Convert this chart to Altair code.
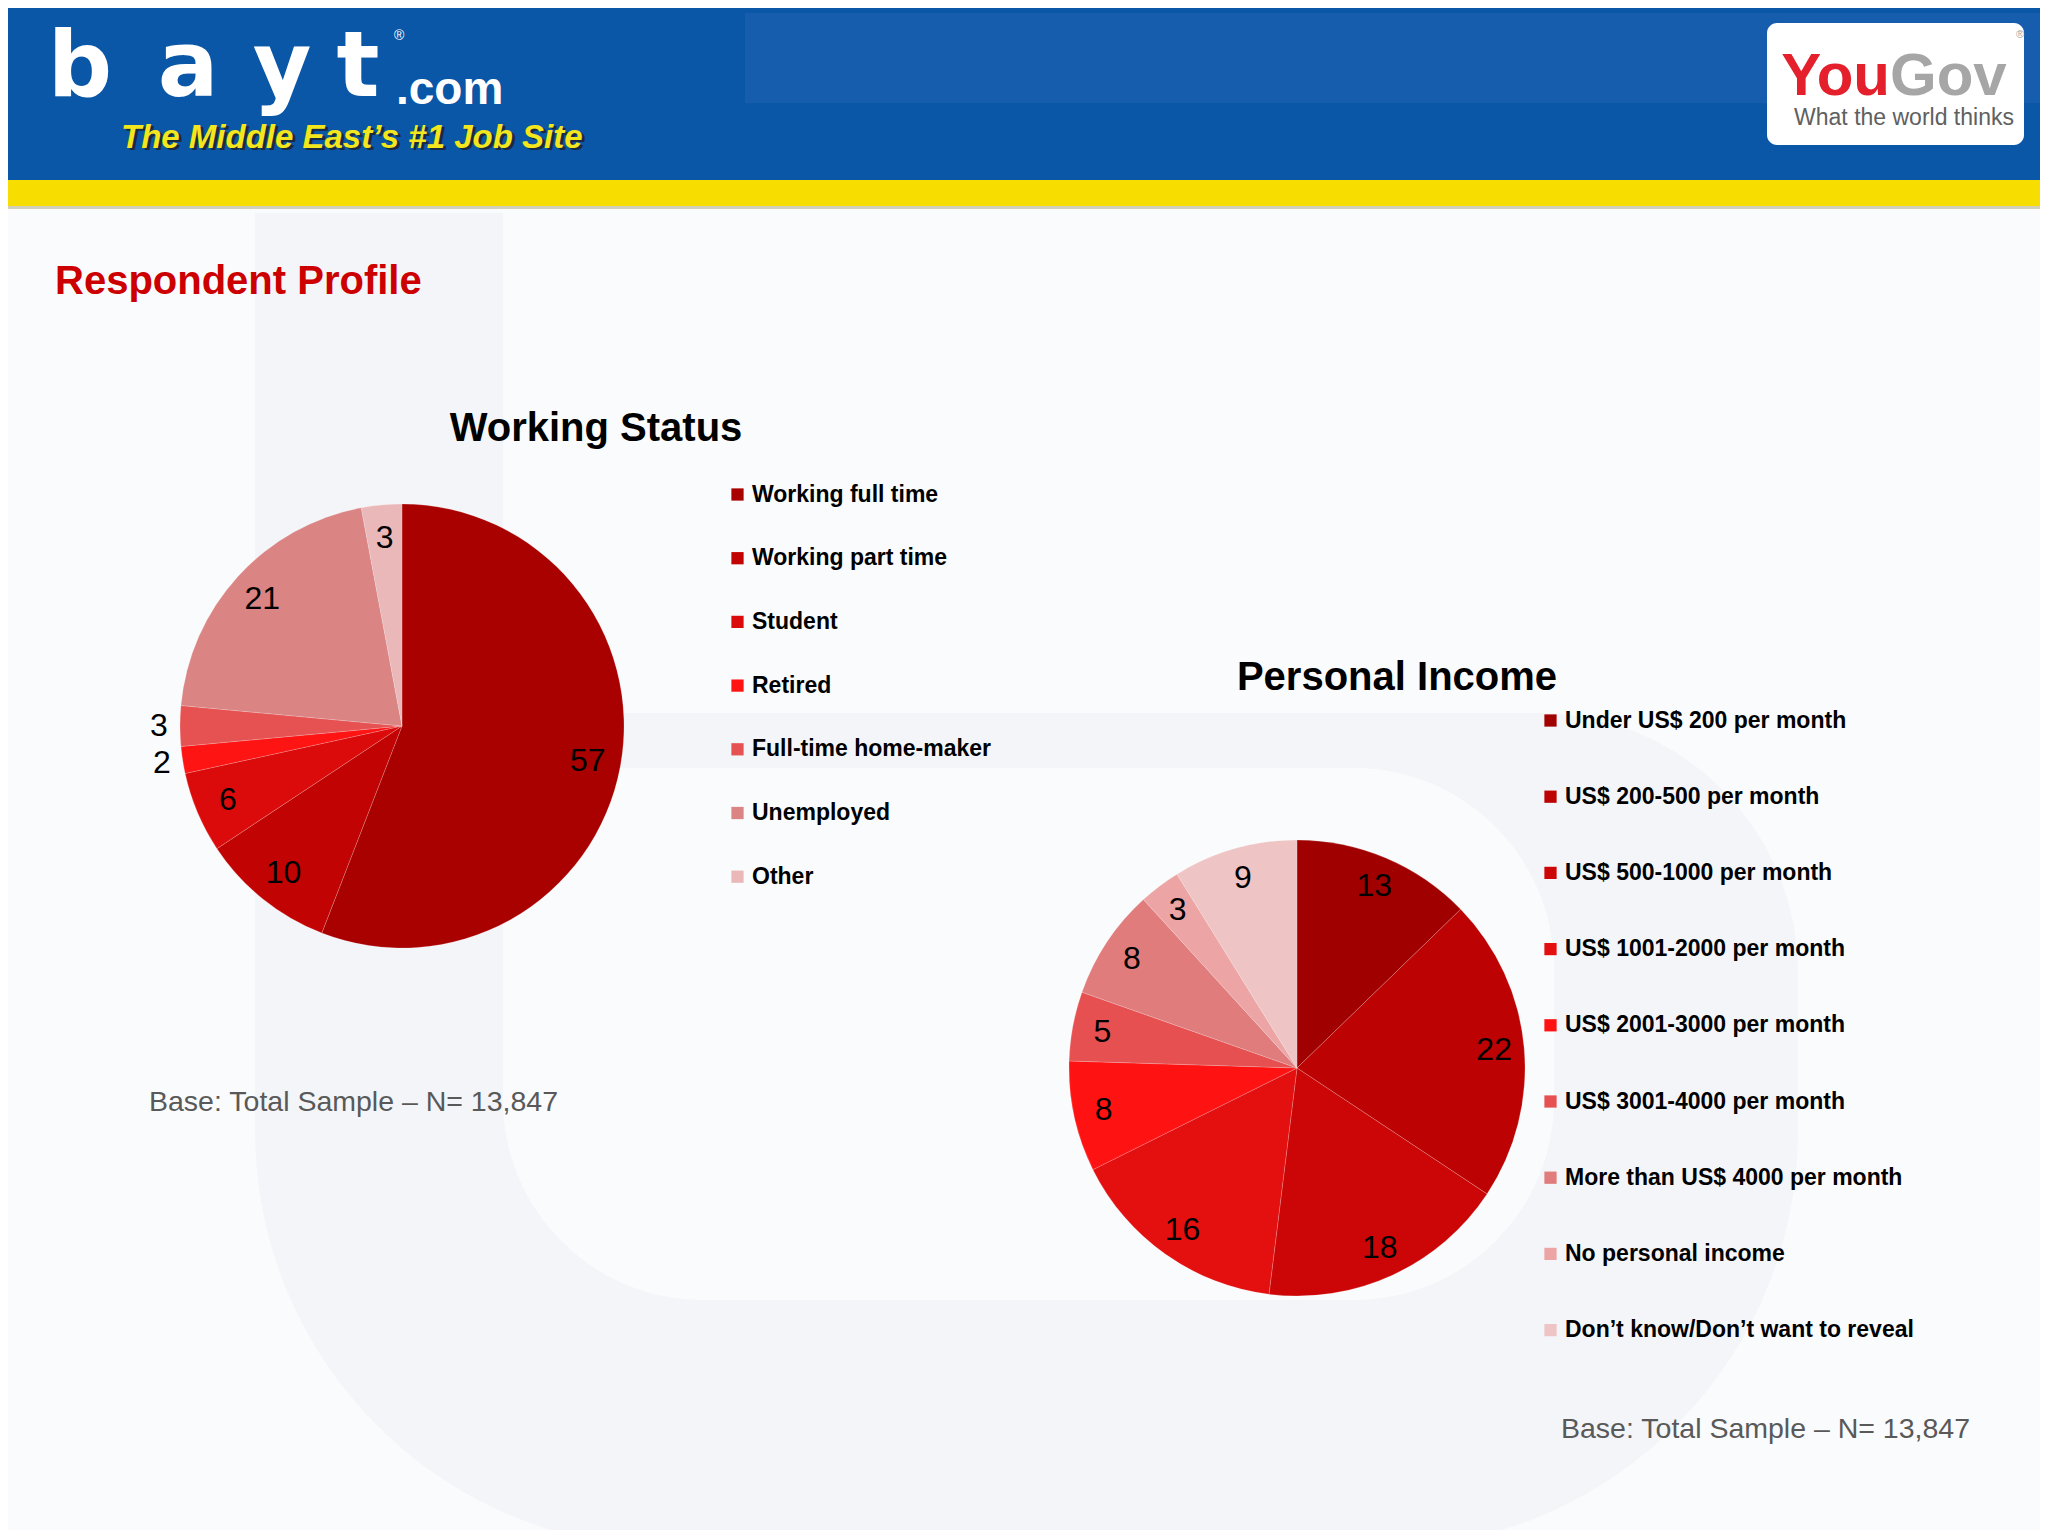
import altair as alt
import pandas as pd

# ---------------- data ----------------
ws_categories = ["Working full time", "Working part time", "Student", "Retired",
                 "Full-time home-maker", "Unemployed", "Other"]
ws_values = [57, 10, 6, 2, 3, 21, 3]
ws_colors = ["#A90000", "#C20303", "#DC0B0B", "#FF1414", "#E65252", "#DB8484", "#EAB8B8"]
ws_outside = ["Retired", "Full-time home-maker"]

pi_categories = ["Under US$ 200 per month", "US$ 200-500 per month", "US$ 500-1000 per month",
                 "US$ 1001-2000 per month", "US$ 2001-3000 per month", "US$ 3001-4000 per month",
                 "More than US$ 4000 per month", "No personal income",
                 "Don\u2019t know/Don\u2019t want to reveal"]
pi_values = [13, 22, 18, 16, 8, 5, 8, 3, 9]
pi_colors = ["#A00000", "#BC0202", "#CC0606", "#E40F0F", "#FF1212", "#E65050", "#E07C7C",
             "#ECA4A4", "#EEC4C4"]

W, H = 2032, 1522
FONT = "Liberation Sans"

ws_df = pd.DataFrame({"cat": ws_categories, "value": ws_values, "idx": range(len(ws_values))})
pi_df = pd.DataFrame({"cat": pi_categories, "value": pi_values, "idx": range(len(pi_values))})
one = pd.DataFrame({"a": [0]})


def rect(x, x2, y, y2, color, opacity=1.0, **kw):
    return alt.Chart(one).mark_rect(color=color, opacity=opacity, **kw).encode(
        x=alt.value(x), x2=alt.value(x2), y=alt.value(y), y2=alt.value(y2))


def label(text, x, y, size, color="black", weight="normal", align="left",
          font=FONT, style="normal", baseline="alphabetic"):
    return alt.Chart(pd.DataFrame({"t": [text]})).mark_text(
        fontSize=size, color=color, fontWeight=weight, align=align, font=font,
        fontStyle=style, baseline=baseline).encode(
        x=alt.value(x), y=alt.value(y), text="t:N")


# ---------------- background ("b" watermark) ----------------
bg_dark = "#F4F5F8"
bg_light = "#FAFBFC"
layers = [
    rect(247, 1790, 705, 1540, bg_dark, cornerRadiusTopRight=260,
         cornerRadiusBottomLeft=500, cornerRadiusBottomRight=500),
    rect(247, 495, 205, 1000, bg_dark),
    rect(495, 1546, 760, 1292, bg_light, cornerRadiusTopLeft=120, cornerRadiusTopRight=200,
         cornerRadiusBottomLeft=200, cornerRadiusBottomRight=200),
]

# ---------------- header ----------------
layers += [
    rect(0, W, 0, 172, "#0A56A7"),
    rect(737, W, 5, 95, "#3A78C0", opacity=0.25),
    rect(0, W, 172, 198, "#F8DD00"),
    rect(0, W, 198, 201, "#C8C6A8", opacity=0.8),
    rect(1759, 2016, 15, 137, "#FFFFFF", cornerRadius=10),
]
for ch, cx in zip("bayt", [72, 180, 274, 350]):
    layers.append(label(ch, cx, 88, 90, color="white", weight="bold", align="center",
                        font="DejaVu Sans"))
layers += [
    label(".com", 388, 96, 46, color="white", weight="bold"),
    label("\u00ae", 386, 32, 14, color="white"),
    label("The Middle East\u2019s #1 Job Site", 116, 142, 33, color="#1A2A40",
          weight="bold", style="italic"),
    label("The Middle East\u2019s #1 Job Site", 113, 140, 33, color="#F4E61C",
          weight="bold", style="italic"),
    label("You", 1882, 87, 60, color="#E3202B", weight="bold", align="right"),
    label("Gov", 1882, 87, 60, color="#A6A6A6", weight="bold"),
    label("\u00ae", 2008, 30, 11, color="#A6A6A6"),
    label("What the world thinks", 1896, 117, 23, color="#606060", align="center"),
]

# ---------------- titles / notes ----------------
layers += [
    label("Respondent Profile", 47, 286, 40, color="#CC0000", weight="bold"),
    label("Working Status", 588, 433, 40, weight="bold", align="center"),
    label("Personal Income", 1389, 682, 40, weight="bold", align="center"),
    label("Base: Total Sample \u2013 N= 13,847", 141, 1103, 28.5, color="#595959"),
    label("Base: Total Sample \u2013 N= 13,847", 1553, 1430, 28.5, color="#595959"),
]


def legend(x, y, row_pad):
    return alt.Legend(orient="none", legendX=x, legendY=y, title=None, symbolType="square",
                      symbolSize=150, symbolStrokeWidth=0, labelFont=FONT, labelFontSize=23,
                      labelFontWeight="bold", labelColor="black", rowPadding=row_pad,
                      labelOffset=3, padding=0, labelLimit=0)


# ---------------- pies ----------------
ws_cx, ws_cy, ws_r = 394, 718, 222
pi_cx, pi_cy, pi_r = 1289, 1060, 228

ws_base = alt.Chart(ws_df).encode(
    theta=alt.Theta("value:Q", stack=True),
    order=alt.Order("idx:Q"),
    x=alt.value(ws_cx), y=alt.value(ws_cy))
ws_arc = ws_base.mark_arc(outerRadius=ws_r, stroke="#FFFFFF", strokeWidth=0.6,
                          strokeOpacity=0.3).encode(
    color=alt.Color("cat:N", sort=ws_categories,
                    scale=alt.Scale(domain=ws_categories, range=ws_colors),
                    legend=legend(718, 475, 39.7)))
is_out = alt.FieldOneOfPredicate(field="cat", oneOf=ws_outside)
ws_txt_in = ws_base.mark_text(fontSize=32, font=FONT, color="black").encode(
    radius=alt.value(189), text="value:Q",
    opacity=alt.condition(is_out, alt.value(0), alt.value(1)))
ws_txt_out = ws_base.mark_text(fontSize=32, font=FONT, color="black").encode(
    radius=alt.value(243), text="value:Q",
    opacity=alt.condition(is_out, alt.value(1), alt.value(0)))

pi_base = alt.Chart(pi_df).encode(
    theta=alt.Theta("value:Q", stack=True),
    order=alt.Order("idx:Q"),
    x=alt.value(pi_cx), y=alt.value(pi_cy))
pi_arc = pi_base.mark_arc(outerRadius=pi_r, stroke="#FFFFFF", strokeWidth=0.6,
                          strokeOpacity=0.3).encode(
    color=alt.Color("cat:N", sort=pi_categories,
                    scale=alt.Scale(domain=pi_categories, range=pi_colors),
                    legend=legend(1531, 701, 52.2)))
pi_txt = pi_base.mark_text(fontSize=32, font=FONT, color="black").encode(
    radius=alt.value(198), text="value:Q")

layers += [ws_arc, ws_txt_in, ws_txt_out, pi_arc, pi_txt]

chart = alt.layer(*layers).resolve_scale(
    color="independent", theta="independent"
).properties(
    width=W, height=H, background=bg_light, padding=0, autosize="none"
).configure_view(stroke=None)

chart.save("out.html", embed_options={"renderer": "svg", "actions": False})
